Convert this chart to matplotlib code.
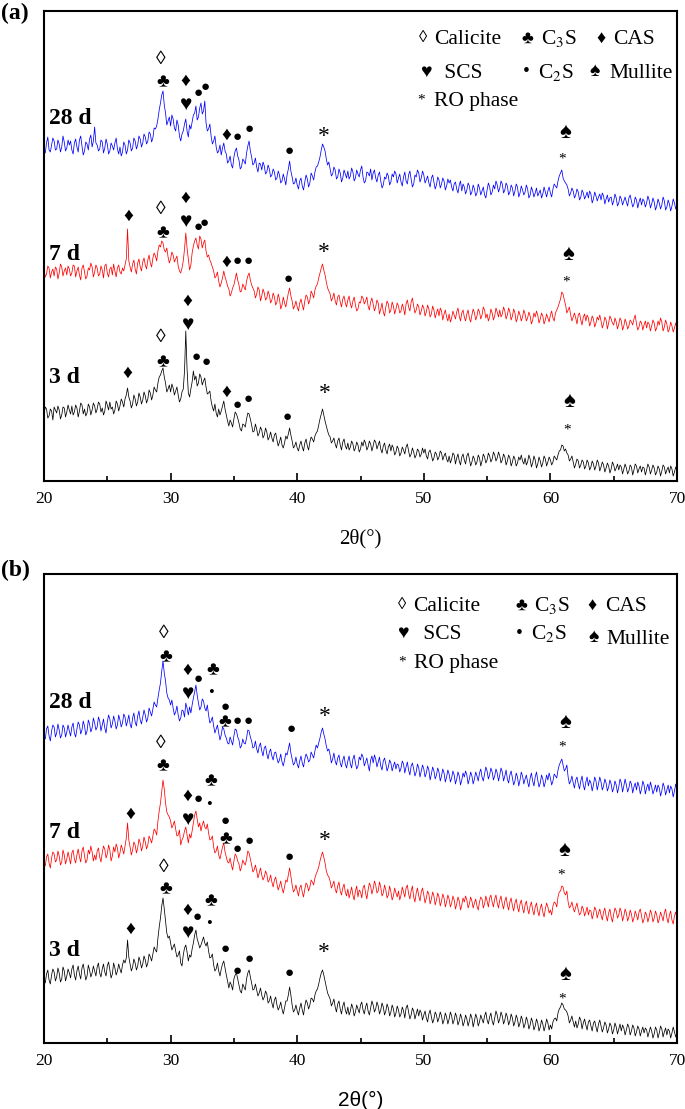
import numpy as np
import matplotlib
matplotlib.use('Agg')
import matplotlib.pyplot as plt
from matplotlib.ticker import MultipleLocator

plt.rcParams['font.family'] = ['Liberation Serif', 'DejaVu Sans']
plt.rcParams['mathtext.fontset'] = 'stix'

# ---------------- data (intensity, a.u., offset curves) ----------------
# readings at 20.0, 20.2, ... 70.0 and the readings in between (20.1, 20.3, ... 69.9)
two_theta = np.linspace(20, 70, 501)

a_28d_even = [
    333, 338, 331, 336, 340, 332, 337, 334, 339, 333,
    336, 331, 338, 334, 341, 335, 330, 337, 342, 334,
    354, 336, 332, 339, 333, 337, 330, 335, 338, 332,
    334, 329, 336, 331, 338, 333, 340, 336, 342, 338,
    344, 340, 347, 343, 352, 362, 378, 390, 368, 360,
    355, 362, 350, 356, 340, 350, 362, 344, 352, 366,
    375, 364, 378, 370, 358, 352, 345, 340, 334, 330,
    326, 338, 327, 320, 316, 324, 333, 321, 314, 320,
    328, 340, 324, 318, 314, 318, 311, 315, 309, 312,
    306, 309, 303, 306, 300, 302, 306, 320, 304, 298,
    296, 300, 295, 299, 302, 298, 305, 309, 315, 324,
    337, 330, 316, 312, 307, 311, 304, 308, 303, 307,
    310, 305, 309, 303, 307, 311, 304, 300, 308, 312,
    308, 303, 306, 300, 296, 302, 305, 299, 304, 307,
    303, 299, 304, 300, 306, 302, 297, 304, 308, 303,
    306, 301, 298, 303, 299, 296, 301, 297, 300, 295,
    298, 294, 297, 292, 296, 290, 294, 291, 295, 289,
    292, 288, 293, 290, 286, 291, 294, 289, 292, 296,
    293, 297, 291, 295, 289, 293, 290, 294, 288, 291,
    289, 292, 286, 290, 288, 285, 291, 287, 289, 290,
    288, 292, 295, 300, 308, 303, 298, 292, 288, 290,
    286, 289, 284, 288, 285, 283, 287, 282, 285, 284,
    281, 285, 282, 279, 284, 280, 283, 278, 282, 280,
    279, 283, 280, 277, 281, 279, 276, 280, 278, 281,
    277, 279, 275, 278, 276, 280, 274, 277, 275, 278,
    276]
a_28d_odd = [
    328, 344, 329, 343, 331, 341, 329, 345, 330, 341,
    340, 327, 342, 329, 345, 326, 339, 331, 346, 340,
    338, 330, 341, 328, 342, 327, 338, 331, 343, 327,
    325, 339, 327, 341, 330, 343, 332, 345, 334, 347,
    337, 349, 339, 353, 355, 371, 386, 376, 356, 364,
    366, 353, 361, 345, 347, 357, 350, 356, 359, 368,
    361, 373, 367, 380, 350, 357, 337, 345, 328, 336,
    333, 330, 318, 325, 313, 330, 325, 312, 322, 317,
    335, 330, 316, 323, 309, 317, 319, 307, 316, 304,
    312, 301, 310, 298, 307, 296, 312, 310, 297, 303,
    292, 303, 291, 306, 294, 308, 301, 314, 319, 331,
    334, 322, 319, 305, 314, 302, 312, 299, 311, 303,
    302, 313, 300, 311, 304, 315, 298, 309, 305, 301,
    311, 299, 309, 293, 304, 308, 296, 307, 310, 298,
    307, 295, 309, 297, 310, 294, 306, 311, 299, 310,
    298, 305, 294, 306, 292, 304, 293, 303, 291, 302,
    301, 290, 299, 288, 300, 297, 287, 298, 286, 296,
    285, 297, 286, 294, 283, 298, 286, 296, 300, 289,
    300, 288, 298, 286, 296, 285, 297, 284, 295, 286,
    296, 283, 294, 284, 293, 288, 283, 294, 284, 294,
    284, 297, 293, 305, 311, 300, 296, 285, 293, 283,
    292, 281, 291, 282, 289, 290, 278, 289, 280, 287,
    288, 277, 286, 283, 276, 287, 275, 285, 276, 284,
    275, 286, 274, 284, 273, 283, 282, 274, 285, 273,
    283, 271, 282, 272, 284, 271, 281, 270, 282, 272]

a_7d_even = [
    211, 207, 213, 209, 205, 212, 208, 214, 210, 206,
    212, 208, 215, 210, 206, 213, 209, 205, 211, 214,
    209, 213, 207, 211, 215, 208, 212, 206, 210, 213,
    209, 213, 216, 252, 214, 217, 212, 218, 214, 219,
    216, 221, 218, 223, 225, 230, 234, 238, 229, 224,
    222, 226, 222, 215, 208, 220, 248, 222, 216, 235,
    243, 232, 242, 238, 230, 226, 218, 210, 205, 200,
    198, 210, 200, 192, 188, 196, 208, 196, 190, 194,
    200, 208, 196, 190, 187, 191, 185, 188, 183, 186,
    181, 184, 179, 182, 176, 178, 181, 193, 180, 175,
    174, 178, 176, 180, 184, 181, 187, 191, 197, 208,
    217, 206, 193, 187, 183, 180, 184, 179, 182, 178,
    181, 177, 180, 176, 172, 178, 183, 180, 175, 179,
    177, 174, 178, 172, 169, 174, 177, 171, 175, 172,
    175, 170, 173, 177, 174, 179, 175, 171, 174, 170,
    173, 169, 172, 167, 171, 168, 165, 170, 167, 164,
    167, 163, 166, 169, 165, 168, 164, 167, 163, 166,
    168, 165, 169, 166, 171, 167, 164, 168, 165, 169,
    171, 167, 170, 166, 169, 165, 168, 163, 166, 164,
    167, 163, 165, 161, 164, 166, 162, 165, 161, 163,
    166, 163, 168, 174, 182, 187, 176, 171, 166, 164,
    163, 166, 161, 164, 160, 163, 159, 162, 158, 161,
    160, 157, 161, 158, 162, 156, 159, 157, 160, 155,
    158, 155, 159, 162, 157, 154, 158, 156, 153, 157,
    155, 158, 153, 156, 159, 154, 157, 152, 155, 153,
    154]
a_7d_odd = [
    204, 215, 203, 212, 214, 202, 217, 205, 213, 215,
    205, 216, 204, 214, 201, 216, 202, 213, 218, 204,
    216, 205, 215, 203, 217, 204, 214, 217, 204, 216,
    207, 210, 222, 220, 209, 221, 207, 222, 210, 223,
    212, 226, 214, 228, 220, 236, 240, 231, 233, 218,
    229, 219, 225, 210, 213, 232, 233, 211, 228, 240,
    236, 245, 233, 241, 224, 221, 214, 203, 209, 194,
    203, 204, 195, 185, 193, 202, 201, 189, 197, 191,
    205, 201, 193, 183, 194, 180, 192, 181, 190, 178,
    188, 176, 187, 172, 184, 174, 188, 185, 172, 180,
    170, 182, 171, 186, 177, 190, 183, 195, 203, 213,
    211, 199, 190, 180, 188, 176, 186, 174, 185, 174,
    185, 173, 184, 170, 179, 185, 177, 184, 171, 183,
    170, 181, 167, 178, 165, 180, 168, 179, 167, 178,
    168, 177, 166, 181, 170, 183, 168, 177, 166, 176,
    165, 176, 164, 175, 163, 172, 173, 161, 171, 160,
    159, 170, 162, 173, 160, 171, 160, 171, 159, 172,
    161, 172, 162, 174, 163, 160, 172, 161, 173, 164,
    164, 174, 162, 173, 161, 172, 159, 170, 160, 171,
    160, 169, 157, 168, 170, 158, 168, 157, 167, 159,
    170, 160, 171, 178, 189, 181, 168, 174, 160, 168,
    157, 168, 156, 167, 166, 155, 165, 154, 164, 166,
    153, 164, 152, 165, 158, 163, 152, 163, 151, 162,
    152, 161, 156, 166, 151, 160, 151, 160, 159, 150,
    161, 150, 160, 163, 150, 161, 149, 159, 149, 158]

a_3d_even = [
    67, 72, 65, 70, 74, 68, 71, 66, 73, 69,
    71, 75, 69, 73, 70, 76, 72, 68, 74, 71,
    75, 72, 77, 73, 70, 76, 79, 74, 71, 77,
    75, 79, 82, 93, 80, 77, 82, 79, 84, 81,
    85, 82, 88, 86, 91, 98, 106, 113, 98, 92,
    89, 93, 90, 86, 82, 92, 150, 88, 92, 110,
    105, 98, 104, 100, 94, 88, 80, 70, 68, 72,
    70, 80, 66, 55, 58, 62, 67, 58, 50, 56,
    62, 67, 56, 50, 52, 48, 51, 46, 49, 44,
    43, 46, 41, 39, 36, 38, 42, 53, 40, 35,
    33, 36, 34, 38, 35, 39, 42, 45, 50, 62,
    72, 60, 50, 44, 40, 37, 40, 36, 39, 35,
    38, 34, 37, 33, 36, 32, 35, 38, 34, 37,
    35, 39, 36, 32, 35, 31, 34, 30, 33, 29,
    32, 28, 31, 34, 30, 27, 29, 26, 30, 27,
    28, 25, 29, 26, 23, 27, 24, 28, 25, 22,
    25, 22, 26, 23, 20, 24, 21, 25, 22, 19,
    22, 19, 23, 20, 24, 21, 25, 22, 26, 23,
    25, 21, 24, 20, 23, 19, 22, 18, 21, 20,
    23, 19, 22, 18, 21, 17, 20, 18, 22, 19,
    21, 19, 23, 26, 31, 35, 32, 26, 22, 19,
    17, 20, 16, 19, 15, 18, 14, 17, 15, 18,
    14, 16, 13, 15, 12, 16, 13, 11, 14, 12,
    13, 10, 14, 11, 15, 12, 9, 13, 11, 14,
    11, 13, 9, 12, 10, 14, 11, 8, 12, 9,
    10]
a_3d_odd = [
    74, 63, 72, 61, 71, 75, 62, 74, 64, 76,
    67, 66, 76, 64, 78, 67, 65, 77, 66, 78,
    68, 79, 69, 66, 80, 71, 72, 67, 80, 70,
    82, 74, 86, 84, 73, 86, 75, 88, 77, 89,
    78, 91, 81, 94, 89, 104, 110, 104, 89, 96,
    97, 86, 94, 79, 89, 110, 112, 84, 99, 101,
    95, 107, 96, 103, 87, 90, 74, 77, 64, 66,
    75, 72, 60, 61, 54, 69, 63, 52, 57, 54,
    68, 62, 49, 57, 45, 54, 43, 53, 41, 49,
    39, 48, 35, 44, 33, 45, 47, 46, 33, 39,
    30, 40, 30, 42, 31, 44, 39, 48, 56, 67,
    66, 55, 46, 38, 43, 33, 43, 31, 42, 32,
    31, 40, 30, 39, 29, 39, 41, 31, 40, 30,
    41, 32, 40, 28, 38, 27, 37, 36, 26, 35,
    25, 34, 27, 37, 24, 33, 23, 32, 24, 33,
    32, 22, 31, 20, 29, 21, 30, 21, 28, 19,
    18, 28, 17, 27, 16, 27, 17, 28, 15, 25,
    16, 26, 15, 27, 18, 28, 19, 29, 20, 29,
    18, 27, 16, 26, 15, 25, 15, 24, 26, 17,
    16, 26, 14, 25, 13, 24, 14, 25, 15, 24,
    16, 25, 21, 30, 36, 30, 28, 20, 25, 13,
    22, 13, 21, 12, 21, 11, 20, 11, 21, 10,
    19, 9, 18, 8, 19, 10, 17, 16, 7, 17,
    7, 16, 6, 17, 8, 15, 14, 6, 17, 7,
    16, 6, 15, 5, 16, 7, 14, 15, 5, 14]

b_28d_even = [
    309, 314, 307, 312, 316, 310, 313, 308, 315, 311,
    312, 316, 310, 314, 318, 313, 317, 312, 319, 315,
    320, 316, 322, 318, 315, 321, 324, 319, 322, 318,
    323, 320, 326, 322, 319, 325, 321, 327, 323, 326,
    328, 325, 331, 334, 338, 345, 360, 382, 362, 345,
    338, 335, 331, 328, 325, 332, 340, 328, 330, 345,
    358, 340, 336, 342, 332, 328, 322, 317, 314, 310,
    308, 314, 305, 299, 302, 307, 313, 303, 297, 300,
    305, 312, 302, 296, 294, 297, 292, 295, 289, 291,
    287, 290, 285, 283, 281, 283, 288, 300, 284, 280,
    279, 282, 280, 284, 286, 283, 288, 292, 295, 305,
    315, 304, 292, 288, 284, 282, 285, 280, 283, 279,
    282, 279, 284, 280, 277, 283, 286, 281, 278, 283,
    280, 284, 281, 277, 282, 279, 276, 280, 277, 274,
    278, 275, 279, 276, 273, 277, 274, 271, 275, 272,
    274, 270, 273, 269, 272, 268, 271, 267, 270, 266,
    269, 265, 268, 264, 267, 263, 266, 268, 264, 267,
    264, 267, 270, 266, 269, 272, 268, 271, 267, 270,
    268, 271, 267, 264, 268, 265, 262, 266, 263, 267,
    264, 261, 265, 262, 266, 263, 260, 264, 261, 263,
    265, 262, 267, 273, 281, 278, 274, 266, 262, 260,
    263, 259, 262, 258, 261, 257, 260, 258, 262, 259,
    261, 257, 260, 256, 259, 255, 258, 256, 260, 257,
    258, 255, 259, 256, 253, 257, 254, 258, 255, 252,
    256, 253, 251, 255, 252, 256, 253, 250, 254, 252,
    253]
b_28d_odd = [
    304, 317, 302, 318, 306, 319, 305, 318, 306, 318,
    307, 320, 306, 321, 309, 322, 308, 323, 311, 325,
    313, 326, 312, 324, 310, 328, 315, 327, 314, 328,
    316, 329, 317, 328, 315, 330, 317, 332, 319, 333,
    321, 335, 327, 341, 336, 353, 372, 370, 350, 343,
    343, 328, 337, 322, 333, 326, 335, 336, 338, 351,
    348, 333, 344, 335, 338, 320, 326, 310, 318, 303,
    316, 308, 300, 306, 298, 314, 306, 295, 304, 299,
    313, 306, 295, 302, 290, 300, 287, 297, 284, 294,
    283, 291, 280, 289, 277, 290, 294, 290, 278, 286,
    275, 287, 276, 289, 281, 291, 285, 298, 300, 311,
    309, 297, 294, 280, 290, 278, 288, 276, 287, 275,
    287, 275, 288, 274, 286, 289, 277, 285, 272, 287,
    288, 276, 286, 273, 285, 272, 283, 272, 281, 279,
    271, 282, 270, 281, 268, 280, 267, 279, 266, 278,
    266, 277, 263, 276, 264, 275, 262, 274, 261, 273,
    261, 272, 259, 271, 258, 270, 272, 259, 271, 259,
    271, 262, 274, 262, 276, 264, 275, 263, 274, 262,
    275, 262, 273, 260, 272, 258, 270, 257, 271, 259,
    268, 256, 270, 257, 271, 256, 268, 256, 268, 270,
    258, 269, 265, 278, 284, 272, 278, 259, 267, 255,
    266, 254, 267, 253, 266, 263, 252, 266, 253, 266,
    253, 264, 252, 263, 251, 262, 250, 264, 251, 264,
    251, 262, 250, 260, 261, 249, 262, 249, 259, 261,
    249, 258, 258, 247, 260, 248, 258, 257, 246, 259]

b_7d_even = [
    182, 186, 180, 185, 189, 183, 187, 181, 188, 184,
    185, 190, 184, 188, 186, 192, 187, 183, 189, 191,
    188, 192, 186, 190, 194, 189, 193, 187, 191, 195,
    190, 194, 197, 220, 196, 193, 198, 195, 200, 197,
    201, 198, 204, 207, 212, 222, 240, 263, 240, 228,
    222, 218, 214, 208, 198, 206, 216, 200, 205, 220,
    232, 216, 212, 222, 214, 210, 204, 196, 192, 188,
    190, 200, 186, 180, 178, 182, 187, 179, 176, 180,
    184, 190, 178, 173, 172, 170, 168, 166, 169, 163,
    161, 163, 159, 157, 155, 156, 161, 175, 158, 153,
    152, 155, 151, 154, 158, 156, 161, 165, 172, 182,
    191, 180, 168, 162, 158, 154, 157, 152, 155, 151,
    154, 150, 148, 152, 146, 151, 155, 150, 153, 157,
    154, 158, 152, 156, 150, 153, 148, 151, 147, 150,
    152, 148, 151, 155, 149, 152, 146, 150, 147, 151,
    148, 145, 149, 144, 147, 143, 146, 142, 145, 141,
    144, 140, 143, 139, 142, 138, 141, 143, 139, 142,
    140, 137, 141, 144, 139, 142, 145, 141, 144, 140,
    143, 139, 142, 138, 141, 137, 140, 136, 139, 135,
    138, 134, 137, 133, 136, 132, 135, 131, 134, 136,
    133, 137, 140, 146, 152, 156, 148, 141, 137, 135,
    136, 133, 130, 134, 131, 128, 132, 129, 133, 130,
    128, 131, 127, 130, 126, 129, 132, 128, 131, 127,
    130, 126, 129, 125, 128, 131, 127, 124, 128, 126,
    129, 125, 128, 124, 127, 130, 125, 128, 123, 127,
    125]
b_7d_odd = [
    177, 189, 175, 191, 181, 192, 178, 193, 179, 191,
    179, 193, 180, 194, 181, 196, 180, 193, 197, 182,
    183, 195, 181, 197, 185, 198, 182, 196, 199, 185,
    198, 189, 205, 203, 188, 201, 190, 204, 192, 206,
    194, 207, 200, 214, 208, 232, 252, 254, 231, 226,
    215, 222, 207, 213, 203, 212, 208, 209, 212, 228,
    224, 220, 218, 216, 219, 203, 207, 190, 197, 184,
    196, 191, 181, 185, 173, 189, 182, 172, 183, 178,
    192, 184, 171, 178, 165, 175, 163, 172, 161, 168,
    156, 166, 153, 162, 150, 163, 168, 167, 151, 158,
    147, 158, 146, 160, 152, 163, 158, 169, 176, 187,
    186, 172, 166, 155, 162, 150, 161, 148, 159, 147,
    145, 156, 143, 157, 153, 145, 158, 144, 160, 149,
    162, 150, 161, 147, 158, 145, 157, 143, 155, 146,
    143, 156, 146, 158, 144, 157, 141, 155, 142, 155,
    140, 152, 139, 151, 138, 150, 137, 149, 136, 148,
    136, 147, 134, 146, 133, 145, 147, 135, 146, 135,
    144, 133, 146, 135, 147, 136, 148, 136, 148, 135,
    147, 134, 146, 133, 145, 132, 144, 131, 143, 130,
    142, 129, 141, 128, 140, 127, 139, 126, 140, 130,
    128, 141, 136, 151, 157, 150, 152, 135, 141, 131,
    140, 128, 137, 127, 136, 133, 124, 136, 125, 134,
    123, 135, 122, 134, 121, 135, 125, 135, 122, 134,
    122, 133, 121, 132, 123, 134, 120, 131, 121, 133,
    121, 132, 120, 131, 122, 134, 120, 132, 119, 131]

b_3d_even = [
    65, 69, 63, 68, 71, 66, 70, 64, 72, 67,
    70, 74, 68, 72, 69, 75, 71, 67, 73, 70,
    72, 76, 70, 74, 71, 77, 73, 69, 75, 72,
    74, 78, 80, 103, 79, 76, 80, 77, 82, 79,
    83, 80, 86, 89, 93, 105, 125, 145, 122, 105,
    100, 96, 92, 88, 80, 88, 98, 82, 86, 100,
    113, 100, 98, 106, 97, 92, 86, 78, 74, 72,
    74, 82, 68, 55, 58, 64, 70, 58, 50, 56,
    64, 73, 60, 54, 53, 50, 48, 46, 49, 42,
    40, 43, 38, 36, 34, 35, 42, 56, 38, 33,
    32, 35, 33, 37, 40, 38, 44, 48, 54, 65,
    73, 62, 50, 44, 40, 36, 39, 34, 37, 33,
    36, 32, 35, 31, 34, 38, 33, 36, 32, 35,
    38, 34, 37, 33, 36, 32, 35, 31, 34, 30,
    33, 29, 32, 35, 31, 28, 32, 29, 27, 30,
    28, 25, 29, 26, 24, 28, 25, 27, 23, 26,
    24, 27, 23, 26, 22, 25, 21, 24, 22, 25,
    22, 25, 21, 24, 27, 23, 26, 22, 25, 28,
    24, 27, 23, 26, 22, 25, 21, 24, 20, 23,
    19, 22, 18, 21, 17, 20, 16, 19, 17, 20,
    18, 21, 25, 30, 36, 38, 33, 27, 23, 21,
    22, 19, 23, 20, 18, 21, 17, 20, 16, 19,
    17, 15, 18, 14, 17, 13, 16, 14, 12, 15,
    13, 16, 12, 15, 11, 14, 12, 10, 13, 11,
    12, 9, 13, 10, 14, 11, 8, 12, 10, 11,
    10]
b_3d_odd = [
    60, 73, 59, 74, 62, 75, 61, 76, 62, 74,
    65, 78, 63, 77, 64, 79, 63, 78, 66, 77,
    67, 80, 66, 79, 67, 81, 65, 80, 68, 79,
    70, 83, 85, 86, 72, 84, 73, 86, 75, 87,
    76, 89, 82, 96, 91, 116, 137, 134, 110, 107,
    93, 99, 86, 92, 77, 95, 91, 88, 94, 108,
    104, 95, 102, 100, 101, 85, 89, 72, 80, 67,
    79, 75, 62, 61, 53, 68, 64, 52, 59, 53,
    70, 66, 53, 59, 47, 55, 43, 52, 40, 47,
    35, 46, 33, 41, 29, 42, 48, 48, 31, 38,
    28, 40, 28, 43, 34, 45, 41, 52, 59, 70,
    68, 56, 47, 37, 44, 31, 42, 29, 41, 29,
    28, 39, 27, 38, 30, 41, 29, 40, 28, 42,
    31, 41, 29, 40, 28, 39, 27, 38, 26, 37,
    26, 36, 25, 38, 24, 35, 24, 34, 33, 23,
    32, 21, 33, 20, 31, 21, 31, 19, 30, 19,
    31, 19, 30, 18, 29, 17, 28, 17, 29, 16,
    29, 17, 28, 20, 31, 19, 30, 18, 32, 20,
    31, 19, 30, 18, 29, 17, 28, 16, 27, 15,
    26, 14, 25, 13, 24, 12, 23, 12, 24, 13,
    14, 24, 22, 34, 40, 34, 31, 20, 27, 16,
    15, 26, 14, 24, 13, 23, 12, 22, 11, 23,
    11, 21, 10, 20, 9, 20, 9, 19, 18, 8,
    19, 8, 18, 7, 17, 7, 16, 15, 6, 16,
    5, 16, 5, 17, 6, 15, 14, 5, 16, 6]


def merge(even, odd):
    assert len(even) == 251 and len(odd) == 250, (len(even), len(odd))
    out = np.empty(501)
    out[0::2] = even
    out[1::2] = odd
    return out


a_series = [merge(a_28d_even, a_28d_odd), merge(a_7d_even, a_7d_odd), merge(a_3d_even, a_3d_odd)]
b_series = [merge(b_28d_even, b_28d_odd), merge(b_7d_even, b_7d_odd), merge(b_3d_even, b_3d_odd)]

series_labels = ['28 d', '7 d', '3 d']
series_colors = ['#0000FF', '#FF0000', '#000000']

# phase symbols and peak labels: (phase, 2theta, height)
SYMS = {'cal': '\u25CA', 'c3s': '\u2663', 'cas': '\u2666', 'scs': '\u2665',
        'c2s': '\u25CF', 'c2s_s': '\u2022', 'mul': '\u2660', 'ro': '*', 'ro_s': '*'}
SYM_SIZE = {'cal': 14, 'c3s': 14, 'cas': 14, 'scs': 15, 'c2s': 11, 'c2s_s': 12,
            'mul': 16, 'ro': 17, 'ro_s': 11}

a_peaks = [
    ('cal', 29.25, 422), ('c3s', 29.4, 398), ('cas', 31.2, 400), ('scs', 31.2, 376),
    ('c2s', 32.15, 387), ('c2s', 32.75, 394), ('cas', 34.4, 346), ('c2s', 35.3, 343),
    ('c2s', 36.2, 352), ('c2s', 39.35, 329), ('ro', 42.1, 345), ('mul', 61.15, 347),
    ('ro_s', 60.9, 322),
    ('cas', 26.7, 265), ('cal', 29.26, 271), ('c3s', 29.4, 247), ('cas', 31.2, 283),
    ('scs', 31.2, 259), ('c2s', 32.15, 253), ('c2s', 32.7, 258), ('cas', 34.4, 219),
    ('c2s', 35.3, 219), ('c2s', 36.15, 219), ('c2s', 39.3, 201), ('ro', 42.1, 228),
    ('mul', 61.4, 226), ('ro_s', 61.25, 199),
    ('cas', 26.6, 108), ('cal', 29.26, 143), ('c3s', 29.4, 118), ('cas', 31.35, 180),
    ('scs', 31.35, 156), ('c2s', 32.0, 123), ('c2s', 32.8, 118), ('cas', 34.4, 89),
    ('c2s', 35.3, 75), ('c2s', 36.15, 81), ('c2s', 39.2, 63), ('ro', 42.2, 87),
    ('mul', 61.5, 78), ('ro_s', 61.3, 51),
]

b_peaks = [
    ('cal', 29.42, 410), ('c3s', 29.65, 385), ('cas', 31.35, 373), ('scs', 31.35, 349),
    ('c2s', 32.2, 364), ('c3s', 33.3, 372), ('c2s_s', 33.2, 350), ('c2s', 34.3, 336),
    ('c3s', 34.3, 320), ('c2s', 35.3, 322), ('c2s', 36.1, 322), ('c2s', 39.5, 313),
    ('ro', 42.2, 326), ('mul', 61.2, 319), ('ro_s', 60.9, 296),
    ('cas', 26.8, 229), ('cal', 29.26, 300), ('c3s', 29.4, 276), ('c3s', 33.2, 261),
    ('cas', 31.35, 247), ('c2s', 32.2, 243), ('c2s_s', 33.05, 238), ('scs', 31.35, 223),
    ('c2s', 34.35, 221), ('c3s', 34.35, 203), ('c2s', 35.3, 193), ('c2s', 36.2, 202),
    ('c2s', 39.4, 186), ('ro', 42.2, 203), ('mul', 61.1, 191), ('ro_s', 60.85, 168),
    ('cas', 26.8, 114), ('cal', 29.42, 176), ('c3s', 29.6, 153), ('c3s', 33.15, 141),
    ('cas', 31.35, 133), ('c2s', 32.1, 126), ('c2s_s', 33.0, 119), ('scs', 31.35, 110),
    ('c2s', 34.35, 93), ('c2s', 35.3, 72), ('c2s', 36.2, 83), ('c2s', 39.4, 69),
    ('ro', 42.1, 91), ('mul', 61.2, 67), ('ro_s', 60.9, 44),
]

legend_names = ['Calicite', r'C$_3$S', 'CAS', ' SCS', r'C$_2$S', 'Mullite', 'RO phase']
legend_keys = ['cal', 'c3s', 'cas', 'scs', 'c2s_s', 'mul', 'ro_s']
LEG_SYM_SIZE = {'cal': 12, 'c3s': 13, 'cas': 13, 'scs': 14, 'c2s_s': 14, 'mul': 14, 'ro_s': 11}
# (symbol x, text x, y) per legend entry
a_legend_pos = [(49.97, 50.8, 443), (58.16, 59.27, 443), (64.02, 64.97, 443),
                (50.17, 51.2, 409), (58.08, 59.03, 409), (63.47, 64.66, 409),
                (49.81, 50.8, 381)]
b_legend_pos = [(48.32, 49.19, 438), (57.69, 58.74, 438), (63.31, 64.34, 438),
                (48.35, 49.56, 410), (57.53, 58.43, 410), (63.39, 64.42, 405),
                (48.27, 49.19, 381)]

a_label_y = [363, 226, 103]
b_label_y = [341, 211, 93]

# ---------------- figure ----------------
W, H = 685, 1109
fig = plt.figure(figsize=(W / 100, H / 100), dpi=100)

SYMFONT = ['Liberation Serif', 'DejaVu Sans']


def make_panel(top, bottom, series, peaks, legend_pos, label_y, xlabel_family, tag, tag_y):
    ax = fig.add_axes([44 / W, 1 - bottom / H, 633 / W, (bottom - top) / H])
    for ys, c in zip(series, series_colors):
        ax.plot(two_theta, ys, color=c, lw=0.55)
    ax.set_xlim(20, 70)
    ax.set_ylim(0, bottom - top)
    ax.xaxis.set_major_locator(MultipleLocator(10))
    ax.xaxis.set_minor_locator(MultipleLocator(5))
    ax.tick_params(axis='x', which='major', direction='in', length=6, width=1.2,
                   labelsize=12.5, pad=7)
    ax.tick_params(axis='x', which='minor', direction='in', length=3.5, width=1.2)
    ax.set_yticks([])
    for sp in ax.spines.values():
        sp.set_linewidth(1.5)
    ax.set_xlabel('2\u03b8(\u00b0)', fontsize=15, family=xlabel_family, labelpad=16)
    for lab, y in zip(series_labels, label_y):
        ax.text(20.4, y, lab, fontsize=17, fontweight='bold', ha='left', va='center')
    for key, x, y in peaks:
        ax.text(x, y, SYMS[key], fontsize=SYM_SIZE[key], ha='center', va='center',
                family=SYMFONT, color='black')
    for key, name, (sx, tx, y) in zip(legend_keys, legend_names, legend_pos):
        ax.text(sx, y, SYMS[key], fontsize=LEG_SYM_SIZE[key],
                ha='center', va='center', family=SYMFONT)
        ax.text(tx, y - 6, name, fontsize=15.5, ha='left', va='baseline')
    fig.text(1 / W, 1 - tag_y / H, tag, fontsize=17, fontweight='bold',
             ha='left', va='center')
    return ax


make_panel(11, 481, a_series, a_peaks, a_legend_pos, a_label_y,
           ['Liberation Serif'], '(a)', 13)
make_panel(574, 1043, b_series, b_peaks, b_legend_pos, b_label_y,
           ['Liberation Sans'], '(b)', 570)

fig.savefig('out.png', dpi=100)
